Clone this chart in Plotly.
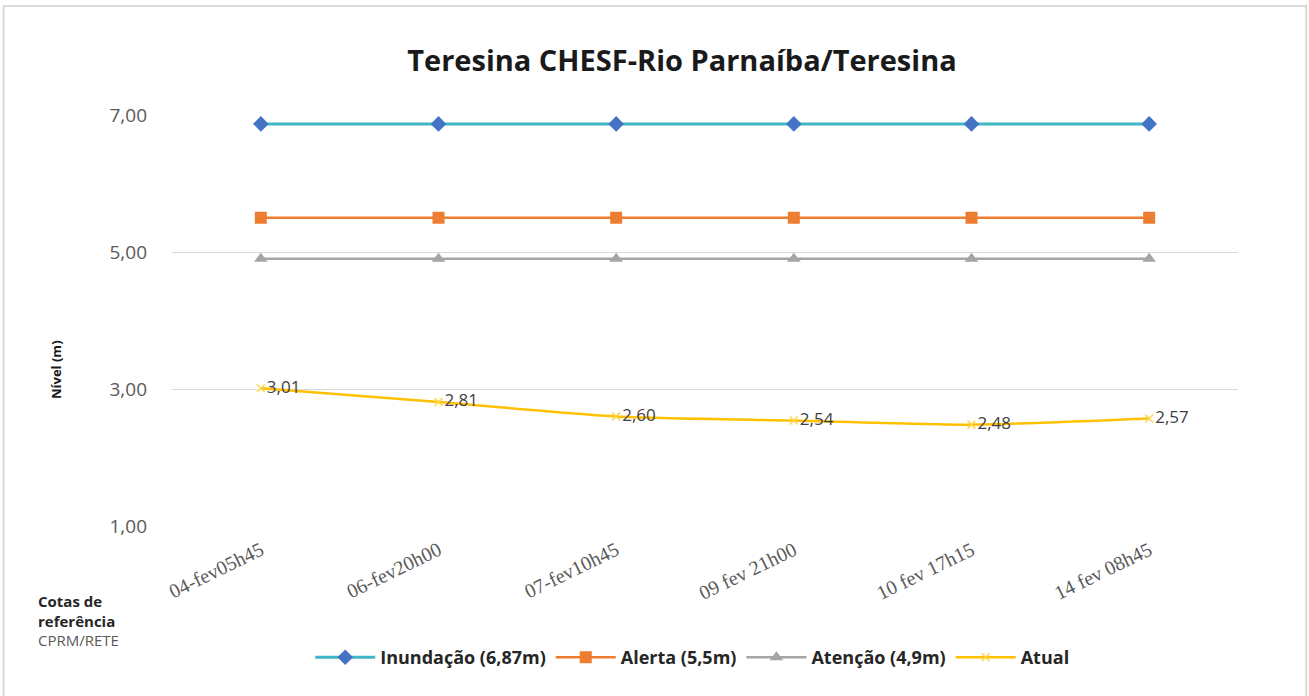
import plotly.graph_objects as go

categories = ["04-fev05h45", "06-fev20h00", "07-fev10h45", "09 fev 21h00", "10 fev 17h15", "14 fev 08h45"]
inundacao = [6.87, 6.87, 6.87, 6.87, 6.87, 6.87]
alerta = [5.5, 5.5, 5.5, 5.5, 5.5, 5.5]
atencao = [4.9, 4.9, 4.9, 4.9, 4.9, 4.9]
atual = [3.01, 2.81, 2.60, 2.54, 2.48, 2.57]
atual_labels = ["3,01", "2,81", "2,60", "2,54", "2,48", "2,57"]
y_ticks = [1, 3, 5, 7]
y_tick_labels = ["1,00", "3,00", "5,00", "7,00"]

fig = go.Figure()
fig.add_trace(go.Scatter(
    x=categories, y=inundacao, name="<b>Inundação (6,87m)</b>", mode="lines+markers",
    line=dict(color="#3FB7C4", width=3),
    marker=dict(symbol="diamond", size=12, color="#4472C4"),
))
fig.add_trace(go.Scatter(
    x=categories, y=alerta, name="<b>Alerta (5,5m)</b>", mode="lines+markers",
    line=dict(color="#ED7D31", width=2.5),
    marker=dict(symbol="square", size=12, color="#ED7D31"),
))
fig.add_trace(go.Scatter(
    x=categories, y=atencao, name="<b>Atenção (4,9m)</b>", mode="lines+markers",
    line=dict(color="#A5A5A5", width=2.5),
    marker=dict(symbol="triangle-up", size=12, color="#A5A5A5"),
))
fig.add_trace(go.Scatter(
    x=categories, y=atual, name="<b>Atual</b>", mode="lines+markers+text",
    line=dict(color="#FFC000", width=2.5, shape="spline", smoothing=0.6),
    marker=dict(symbol="x-thin-open", size=8, line=dict(color="#FFD54F", width=1.5), color="#FFD54F"),
    text=atual_labels, textposition="middle right",
    textfont=dict(family="Open Sans", size=17, color="#404040"),
))

fig.update_layout(
    width=1309, height=696,
    paper_bgcolor="white", plot_bgcolor="white",
    margin=dict(l=172, r=71, t=115, b=170),
    title=dict(text="<b>Teresina CHESF-Rio Parnaíba/Teresina</b>", x=0.521, xanchor="center",
               y=0.912, yanchor="middle",
               font=dict(family="Open Sans", size=29, color="#1a1a1a")),
    font=dict(family="Open Sans", color="#595959"),
    showlegend=True,
    legend=dict(orientation="h", x=0.488, xanchor="center", y=-0.32, yanchor="middle",
                font=dict(family="Open Sans", size=18, color="#262626"),
                itemwidth=60, traceorder="normal"),
    xaxis=dict(type="category", range=[-0.5, 5.5], tickangle=-26, showgrid=False,
               tickfont=dict(family="Liberation Serif", size=20, color="#595959"),
               showline=False, ticks="", automargin=False, ticklabelstandoff=8),
    yaxis=dict(range=[1, 7], tickvals=y_ticks, ticktext=y_tick_labels,
               showgrid=True, gridcolor="#D9D9D9", gridwidth=1, zeroline=False,
               tickfont=dict(family="Open Sans", size=19, color="#595959"),
               ticks="", ticklabelstandoff=24, automargin=False),
)
fig.add_shape(type="rect", xref="paper", yref="paper", x0=-0.158, x1=1.064, y0=-0.43, y1=1.265,
              line=dict(color="#D9D9D9", width=2))
fig.add_annotation(xref="paper", yref="paper", x=(56 - 172) / 1066, y=(526 - 370) / 411,
                   xanchor="center", yanchor="middle", textangle=-90,
                   text="<b>Nível (m)</b>", showarrow=False,
                   font=dict(family="Open Sans", size=13, color="#1a1a1a"))
fig.add_annotation(xref="paper", yref="paper", x=(36 - 172) / 1066, y=(526 - 620) / 411,
                   xanchor="left", yanchor="middle",
                   text="<b>Cotas de</b><br><b>referência</b><br><span style='color:#595959'>CPRM/RETE</span>",
                   showarrow=False, align="left",
                   font=dict(family="Open Sans", size=15, color="#262626"))
fig.write_html("out.html", config={"displayModeBar": False},
               post_script="document.body.style.margin='0';")
